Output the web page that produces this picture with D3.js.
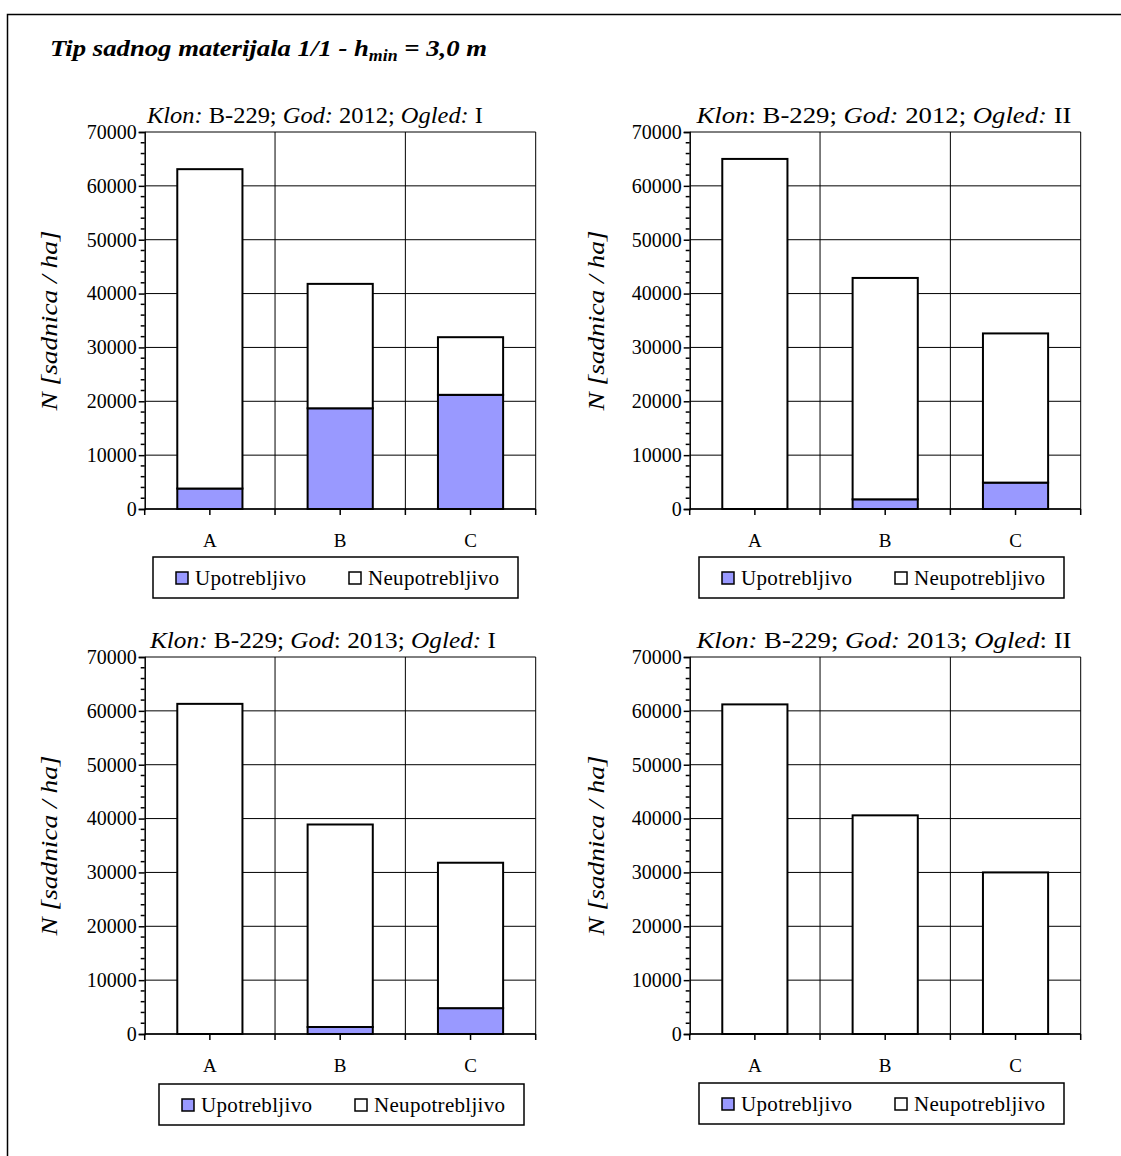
<!DOCTYPE html>
<html>
<head>
<meta charset="utf-8">
<script src="https://cdn.jsdelivr.net/npm/d3@7"></script>
<style>
  body { margin: 0; background: #fff; }
  text { font-family: "Liberation Serif", "Times New Roman", serif; fill: #000; }
</style>
</head>
<body>
<script>
// chart data
var categories = ["A", "B", "C"];
var seriesNames = ["Upotrebljivo", "Neupotrebljivo"];
var usable1 = [3800, 18700, 21200];
var unusable1 = [59300, 23100, 10700];
var usable2 = [0, 1800, 4900];
var unusable2 = [65000, 41100, 27700];
var usable3 = [0, 1300, 4800];
var unusable3 = [61300, 37600, 27000];
var usable4 = [0, 0, 0];
var unusable4 = [61200, 40600, 30000];
var yTicks = [0, 10000, 20000, 30000, 40000, 50000, 60000, 70000];
// *...* marks italic parts
var panelTitles = [
  "*Klon:* B-229; *God:* 2012; *Ogled:* I",
  "*Klon*: B-229; *God:* 2012; *Ogled:* II",
  "*Klon:* B-229; *God*: 2013; *Ogled:* I",
  "*Klon:* B-229; *God:* 2013; *Ogled*: II"
];
var yLabel = "N [sadnica / ha]";

var panelData = [
  [usable1, unusable1], [usable2, unusable2], [usable3, unusable3], [usable4, unusable4]
];

//layout of each panel
var layout = [
  {x: 144.7, y: 132, tx: 315, tw: 336, lx: 153, ly: 557, ax: 50},
  {x: 689.7, y: 132, tx: 884, tw: 375, lx: 699, ly: 557, ax: 597},
  {x: 144.7, y: 657, tx: 323, tw: 346, lx: 159, ly: 1084, ax: 50},
  {x: 689.7, y: 657, tx: 884, tw: 375, lx: 699, ly: 1083, ax: 597}
];
var pw = 391, ph = 377;
var colors = ["#9999ff", "#ffffff"];

var svg = d3.select("body").append("svg")
  .attr("width", 1121)
  .attr("height", 1156);

//outer frame
svg.append("rect")
  .attr("x", 7.5).attr("y", 14.5)
  .attr("width", 1130).attr("height", 1160)
  .attr("fill", "none").attr("stroke", "#000").attr("stroke-width", 1.5);

//main title
var title = svg.append("text")
  .attr("x", 50).attr("y", 56)
  .attr("textLength", 437).attr("lengthAdjust", "spacingAndGlyphs")
  .style("font-size", "24px").style("font-weight", "bold").style("font-style", "italic");
title.append("tspan").text("Tip sadnog materijala 1/1 - h");
title.append("tspan").attr("dy", 5).style("font-size", "16px").text("min");
title.append("tspan").attr("dy", -5).text(" = 3,0 m");

var x = d3.scaleBand().domain(categories).range([0, pw]).paddingInner(0.5).paddingOuter(0.25);
var y = d3.scaleLinear().domain([0, 70000]).range([ph, 0]);
var step = x.step();

panelData.forEach(function(pd, i) {
  var L = layout[i];
  var g = svg.append("g").attr("transform", "translate(" + L.x + "," + L.y + ")");

  var rows = categories.map(function(c, j) {
    return {cat: c, Upotrebljivo: pd[0][j], Neupotrebljivo: pd[1][j]};
  });
  var stacked = d3.stack().keys(seriesNames)(rows);

  //gridlines
  g.selectAll(".hgrid").data(yTicks).enter().append("line")
    .attr("x1", 0).attr("x2", pw)
    .attr("y1", function(d) { return y(d); }).attr("y2", function(d) { return y(d); })
    .attr("stroke", "#000").attr("stroke-width", 1);
  g.selectAll(".vgrid").data(d3.range(1, categories.length + 1)).enter().append("line")
    .attr("x1", function(d) { return d * step; }).attr("x2", function(d) { return d * step; })
    .attr("y1", 0).attr("y2", ph)
    .attr("stroke", "#000").attr("stroke-width", 1);

  //bars
  g.selectAll(".layer").data(stacked).enter().append("g")
    .attr("fill", function(d, k) { return colors[k]; })
    .selectAll("rect").data(function(d) { return d.filter(function(v) { return v[1] > v[0]; }); })
    .enter().append("rect")
    .attr("x", function(d) { return x(d.data.cat); })
    .attr("width", x.bandwidth())
    .attr("y", function(d) { return y(d[1]); })
    .attr("height", function(d) { return y(d[0]) - y(d[1]); })
    .attr("stroke", "#000").attr("stroke-width", 2);

  //y axis
  var minor = d3.range(0, 70001, 2000).filter(function(v) { return v % 10000 != 0; });
  g.selectAll(".minor").data(minor).enter().append("line")
    .attr("x1", -4).attr("x2", 0)
    .attr("y1", function(d) { return y(d); }).attr("y2", function(d) { return y(d); })
    .attr("stroke", "#000").attr("stroke-width", 1.5);
  var ya = g.append("g").call(d3.axisLeft(y).tickValues(yTicks).tickSize(6).tickPadding(2).tickFormat(d3.format("d")));
  ya.select(".domain").attr("stroke-width", 1.5);
  ya.selectAll(".tick line").attr("stroke-width", 1.5);
  ya.selectAll("text").style("font-size", "20px").style("font-family", "Liberation Serif, serif");

  //x axis
  g.append("line").attr("x1", 0).attr("x2", pw).attr("y1", ph).attr("y2", ph)
    .attr("stroke", "#000").attr("stroke-width", 1.5);
  g.selectAll(".xt").data(d3.range(0, categories.length * 2 + 1)).enter().append("line")
    .attr("x1", function(d) { return d * step / 2; }).attr("x2", function(d) { return d * step / 2; })
    .attr("y1", ph).attr("y2", ph + 6)
    .attr("stroke", "#000").attr("stroke-width", 1.5);
  g.selectAll(".xl").data(categories).enter().append("text")
    .attr("x", function(d) { return x(d) + x.bandwidth() / 2; })
    .attr("y", ph + 38)
    .attr("text-anchor", "middle")
    .style("font-size", "19px")
    .text(function(d) { return d; });

  //panel title
  var t = svg.append("text").attr("x", L.tx).attr("y", L.y - 9)
    .attr("text-anchor", "middle")
    .attr("textLength", L.tw).attr("lengthAdjust", "spacingAndGlyphs")
    .style("font-size", "24px");
  panelTitles[i].split("*").forEach(function(part, k) {
    if (part == "") return;
    t.append("tspan").style("font-style", k % 2 == 1 ? "italic" : "normal").text(part);
  });

  //y label
  svg.append("text")
    .attr("transform", "translate(" + (L.ax + 7) + "," + (L.y + ph / 2) + ") rotate(-90)")
    .attr("text-anchor", "middle")
    .attr("textLength", 180).attr("lengthAdjust", "spacingAndGlyphs")
    .style("font-size", "23px").style("font-style", "italic")
    .text(yLabel);

  //legend
  var lg = svg.append("g").attr("transform", "translate(" + L.lx + "," + L.ly + ")");
  lg.append("rect").attr("width", 365).attr("height", 41)
    .attr("fill", "#fff").attr("stroke", "#000").attr("stroke-width", 1.5);
  var offs = [23, 196];
  seriesNames.forEach(function(s, k) {
    lg.append("rect").attr("x", offs[k]).attr("y", 15).attr("width", 12).attr("height", 12)
      .attr("fill", colors[k]).attr("stroke", "#000").attr("stroke-width", 1.5);
    lg.append("text").attr("x", offs[k] + 19).attr("y", 28)
      .attr("textLength", k == 0 ? 111 : 131).attr("lengthAdjust", "spacing")
      .style("font-size", "21px").text(s);
  });
});
</script>
</body>
</html>
